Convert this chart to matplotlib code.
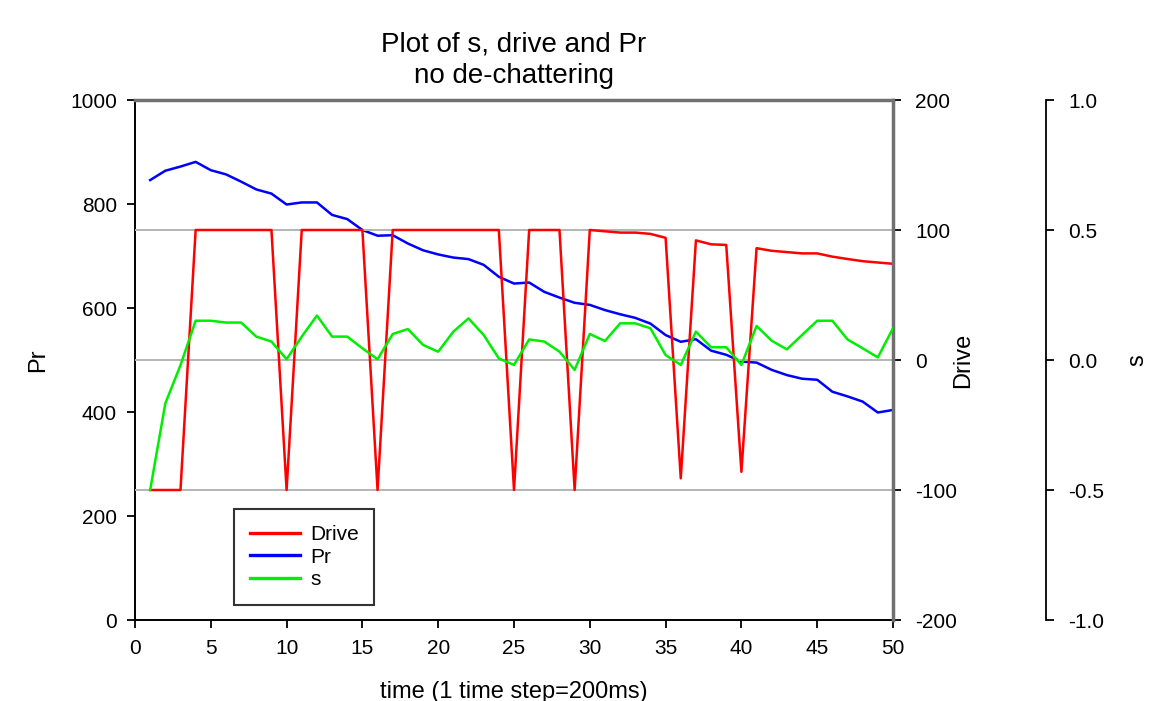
import matplotlib
matplotlib.use("Agg")
import matplotlib.pyplot as plt

plt.rcParams['font.family'] = ['Liberation Sans', 'DejaVu Sans']
plt.rcParams['axes.unicode_minus'] = False

time = list(range(1, 51))

pr = [846, 864, 872, 881, 865, 857, 843, 828, 820, 799,
      803, 803, 779, 771, 750, 739, 740, 724, 711, 703,
      697, 694, 683, 660, 647, 649, 631, 620, 610, 606,
      596, 588, 581, 570, 548, 535, 540, 518, 510, 497,
      495, 481, 471, 464, 462, 439, 430, 420, 399, 404]

drive = [-100, -100, -100, 100, 100, 100, 100, 100, 100, -100,
         100, 100, 100, 100, 100, -100, 100, 100, 100, 100,
         100, 100, 100, 100, -100, 100, 100, 100, -100, 100,
         99, 98, 98, 97, 94, -91, 92, 89, 88.5, -86,
         86, 84, 83, 82, 82, 79.5, 77.7, 76, 75, 74]

s = [-0.5, -0.167, -0.02, 0.151, 0.151, 0.144, 0.144, 0.09, 0.071, 0.003,
     0.09, 0.171, 0.09, 0.09, 0.045, 0.003, 0.10, 0.119, 0.058, 0.032,
     0.109, 0.160, 0.096, 0.006, -0.019, 0.079, 0.071, 0.032, -0.038, 0.10,
     0.073, 0.141, 0.141, 0.122, 0.019, -0.019, 0.109, 0.049, 0.049, -0.019,
     0.131, 0.074, 0.041, 0.096, 0.151, 0.151, 0.079, 0.045, 0.010, 0.122]

x_ticks = list(range(0, 51, 5))
pr_ticks = [0, 200, 400, 600, 800, 1000]
drive_ticks = [-200, -100, 0, 100, 200]
s_ticks = [-1.0, -0.5, 0.0, 0.5, 1.0]
ref_lines = [100, 0, -100]

W, H = 1161, 701
fig = plt.figure(figsize=(W / 100, H / 100), dpi=100)
ax = fig.add_axes([135 / W, 1 - 620 / H, 758 / W, 520 / H])
ax.patch.set_alpha(0)
ax2 = ax.twinx()
ax3 = ax.twinx()

tick_fs = 15
lab_fs = 17
lw = 1.8

# reference lines on Drive axis
for v in ref_lines:
    ax2.axhline(v, color='#b4b4b4', lw=1.4, zorder=0)

l_pr, = ax.plot(time, pr, color='#0000ff', lw=lw, label='Pr')
l_dr, = ax2.plot(time, drive, color='#ff0000', lw=lw, label='Drive')
l_s, = ax3.plot(time, s, color='#00ee00', lw=lw, label='s')

ax.set_xlim(0, 50)
ax.set_ylim(0, 1000)
ax2.set_ylim(-200, 200)
ax3.set_ylim(-1.0, 1.0)

ax.set_xticks(x_ticks)
ax.set_yticks(pr_ticks)
ax2.set_yticks(drive_ticks)
ax3.set_yticks(s_ticks)
ax3.set_yticklabels([f"{v:.1f}" for v in s_ticks])

ax.tick_params(axis='x', direction='out', length=6, width=1.3, labelsize=tick_fs, pad=8)
ax.tick_params(axis='y', direction='out', length=6, width=1.3, labelsize=tick_fs, pad=7)
ax2.tick_params(axis='y', direction='out', length=6, width=1.3, labelsize=tick_fs, pad=10)
ax3.tick_params(axis='y', direction='out', length=6, width=1.3, labelsize=tick_fs, pad=10)

# spines
ax.spines['left'].set_color('black')
ax.spines['left'].set_linewidth(1.4)
ax.spines['bottom'].set_color('black')
ax.spines['bottom'].set_linewidth(1.4)
ax.spines['top'].set_color('#707070')
ax.spines['top'].set_linewidth(2.5)
ax.spines['right'].set_visible(False)

for sp in ('left', 'top', 'bottom'):
    ax2.spines[sp].set_visible(False)
ax2.spines['right'].set_color('#707070')
ax2.spines['right'].set_linewidth(2.5)

for sp in ('left', 'top', 'bottom'):
    ax3.spines[sp].set_visible(False)
ax3.spines['right'].set_position(('axes', (1046 - 135) / 758))
ax3.spines['right'].set_color('black')
ax3.spines['right'].set_linewidth(1.3)

ax.set_xlabel('time (1 time step=200ms)', fontsize=lab_fs, labelpad=16)
ax.set_ylabel('Pr', fontsize=lab_fs, labelpad=15)
ax2.set_ylabel('Drive', fontsize=lab_fs, labelpad=-4)
ax3.set_ylabel('s', fontsize=lab_fs, labelpad=16)

ax.set_title('Plot of s, drive and Pr\nno de-chattering', fontsize=20,
             linespacing=1.3, pad=12)

leg = ax3.legend([l_dr, l_pr, l_s], ['Drive', 'Pr', 's'],
                 loc='lower left', bbox_to_anchor=(99 / 758, 15 / 520),
                 borderaxespad=0, fontsize=15, frameon=True, fancybox=False,
                 handlelength=2.4, handletextpad=0.5, labelspacing=0.18,
                 borderpad=0.75)
leg.get_frame().set_edgecolor('black')
leg.get_frame().set_linewidth(1.5)
for h in leg.get_lines():
    h.set_linewidth(2.4)

fig.savefig('out.png', dpi=100)
